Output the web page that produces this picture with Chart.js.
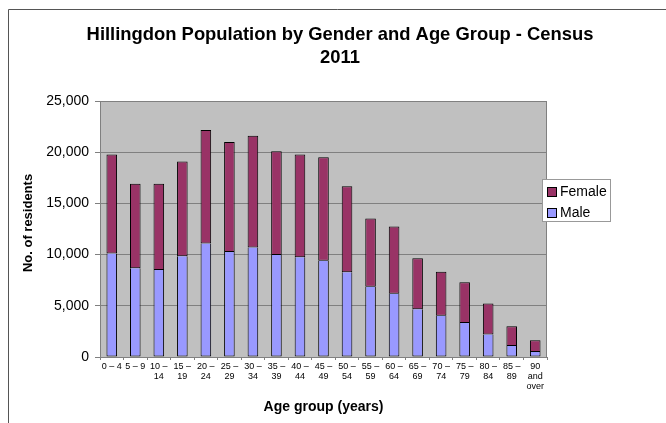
<!DOCTYPE html>
<html>
<head>
<meta charset="utf-8">
<title>Hillingdon Population by Gender and Age Group - Census 2011</title>
<script src="https://cdn.jsdelivr.net/npm/chart.js@4.4.1/dist/chart.umd.min.js"></script>
<style>
  html, body { margin: 0; padding: 0; background: #ffffff; }
  #wrap { position: relative; width: 666px; height: 423px; }
</style>
</head>
<body>
<div id="wrap"><canvas id="chart" width="666" height="423"></canvas></div>
<script>
// Census 2011 residents of Hillingdon, by five-year age band
const ageGroups = [
  ["0 – 4"], ["5 – 9"], ["10 –", "14"], ["15 –", "19"], ["20 –", "24"],
  ["25 –", "29"], ["30 –", "34"], ["35 –", "39"], ["40 –", "44"], ["45 –", "49"],
  ["50 –", "54"], ["55 –", "59"], ["60 –", "64"], ["65 –", "69"], ["70 –", "74"],
  ["75 –", "79"], ["80 –", "84"], ["85 –", "89"], ["90", "and", "over"]
];
const maleResidents = [
  10100, 8670, 8500, 9840, 11080, 10260, 10700, 9970, 9740, 9410,
  8270, 6860, 6180, 4670, 4020, 3330, 2200, 1080, 490
];
const femaleResidents = [
  9670, 8260, 8430, 9260, 11080, 10740, 10900, 10130, 10030, 10090,
  8400, 6670, 6570, 4970, 4310, 3960, 3030, 1920, 1150
];
const residentTicks = [0, 5000, 10000, 15000, 20000, 25000];
const titleLines = ["Hillingdon Population by Gender and Age Group - Census", "2011"];
const yAxisTitle = "No. of residents";

const FONT = "'Liberation Sans', Arial, Helvetica, sans-serif";
const PLOT_BG = "#c0c0c0";
const GRID = "#808080";

// grey plot background behind gridlines and bars
const plotBackground = {
  id: "plotBackground",
  beforeDraw(chart) {
    const { ctx, chartArea: a } = chart;
    ctx.save();
    ctx.fillStyle = PLOT_BG;
    ctx.fillRect(a.left, a.top, a.right - a.left, a.bottom - a.top);
    ctx.restore();
  }
};

// outer frame, plot outline, heading, vertical axis title and the boxed legend
const decorations = {
  id: "decorations",
  afterDraw(chart) {
    const { ctx, chartArea: a } = chart;
    ctx.save();

    // plot outline
    ctx.strokeStyle = GRID;
    ctx.lineWidth = 1;
    ctx.beginPath();
    ctx.moveTo(Math.round(a.left) + 0.5, Math.round(a.top) + 0.5);
    ctx.lineTo(Math.round(a.right) - 0.5, Math.round(a.top) + 0.5);
    ctx.lineTo(Math.round(a.right) - 0.5, Math.round(a.bottom) + 0.5);
    ctx.stroke();

    // outer frame (top and left edges)
    ctx.strokeStyle = "#555555";
    ctx.beginPath();
    ctx.moveTo(8.5, 423);
    ctx.lineTo(8.5, 9.5);
    ctx.lineTo(666, 9.5);
    ctx.stroke();

    // heading
    ctx.fillStyle = "#000000";
    ctx.font = "bold 18.4px " + FONT;
    ctx.textAlign = "center";
    ctx.textBaseline = "middle";
    titleLines.forEach((line, i) => ctx.fillText(line, 340, 35 + i * 23));

    // vertical axis title
    ctx.save();
    ctx.translate(28, 223);
    ctx.rotate(-Math.PI / 2);
    ctx.font = "bold 13px " + FONT;
    ctx.fillText(yAxisTitle, 0, 0);
    ctx.restore();

    // legend: series listed top-down as they are stacked
    const lx = 542.5, ly = 179.5, lw = 68, lh = 42;
    ctx.fillStyle = "#ffffff";
    ctx.fillRect(lx, ly, lw, lh);
    ctx.strokeStyle = "#999999";
    ctx.strokeRect(lx, ly, lw, lh);
    const entries = chart.data.datasets.slice().reverse();
    ctx.font = "14px " + FONT;
    ctx.textAlign = "left";
    entries.forEach((ds, i) => {
      const cy = 192 + i * 21;
      ctx.fillStyle = ds.backgroundColor;
      ctx.fillRect(547.5, cy - 4.5, 9, 9);
      ctx.strokeStyle = "#000000";
      ctx.strokeRect(547.5, cy - 4.5, 9, 9);
      ctx.fillStyle = "#000000";
      ctx.fillText(ds.label, 560, cy);
    });
    ctx.restore();
  }
};

new Chart(document.getElementById("chart"), {
  type: "bar",
  data: {
    labels: ageGroups,
    datasets: [
      {
        label: "Male",
        data: maleResidents,
        backgroundColor: "#9999ff",
        borderColor: "#000000",
        borderWidth: 1,
        borderSkipped: "top",
        barPercentage: 0.45,
        categoryPercentage: 1
      },
      {
        label: "Female",
        data: femaleResidents,
        backgroundColor: "#993366",
        borderColor: "#000000",
        borderWidth: 1,
        borderSkipped: false,
        barPercentage: 0.45,
        categoryPercentage: 1
      }
    ]
  },
  options: {
    responsive: false,
    animation: false,
    layout: { padding: { left: 20, top: 101, right: 119, bottom: 0 } },
    plugins: {
      legend: { display: false },
      title: { display: false },
      tooltip: { enabled: false }
    },
    scales: {
      x: {
        stacked: true,
        grid: { offset: true, drawOnChartArea: false, tickLength: 3, tickColor: GRID },
        border: { color: GRID },
        ticks: {
          color: "#000000",
          font: { family: FONT, size: 9, lineHeight: 1.15 },
          padding: 1,
          maxRotation: 0,
          autoSkip: false
        },
        title: {
          display: true,
          text: "Age group (years)",
          color: "#000000",
          font: { family: FONT, size: 14, weight: "bold" },
          padding: { top: 0, bottom: 7 }
        },
        afterFit(scale) { scale.height = 66; }
      },
      y: {
        stacked: true,
        min: residentTicks[0],
        max: residentTicks[residentTicks.length - 1],
        afterBuildTicks(scale) { scale.ticks = residentTicks.map(v => ({ value: v })); },
        grid: { color: GRID, tickLength: 5, tickColor: GRID },
        border: { color: GRID },
        ticks: {
          color: "#000000",
          font: { family: FONT, size: 14 },
          padding: 6,
          callback: v => v.toLocaleString("en-GB")
        },
        afterFit(scale) { scale.width = 80; }
      }
    }
  },
  plugins: [plotBackground, decorations]
});
</script>
</body>
</html>
